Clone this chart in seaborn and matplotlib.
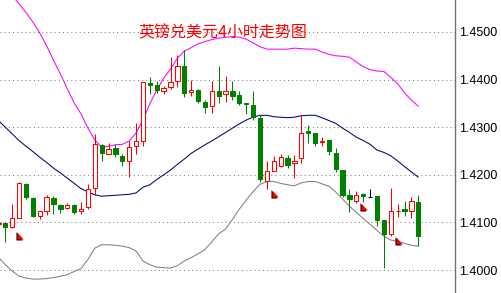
import numpy as np
import pandas as pd
import matplotlib
matplotlib.use("Agg")
import matplotlib.pyplot as plt
from matplotlib.patches import Rectangle
import seaborn as sns

# ---------------- data (4h GBP/USD candles + Bollinger bands) ----------------
opens = [1.4097, 1.4099, 1.4090, 1.4109, 1.4181, 1.4151, 1.4114, 1.4125, 1.4151, 1.4136,
         1.4130, 1.4136, 1.4123, 1.4132, 1.4172, 1.4262, 1.4243, 1.4256, 1.4239, 1.4228,
         1.4260, 1.4272, 1.4392, 1.4388, 1.4375, 1.4384, 1.4398, 1.4429, 1.4373, 1.4378,
         1.4353, 1.4345, 1.4376, 1.4369, 1.4376, 1.4368, 1.4351, 1.4346, 1.4319, 1.4188,
         1.4208, 1.4219, 1.4236, 1.4224, 1.4235, 1.4291, 1.4287, 1.4269, 1.4273, 1.4246,
         1.4210, 1.4158, 1.4146, 1.4159, 1.4154, 1.4155, 1.4104, 1.4075, 1.4124, 1.4128,
         1.4125, 1.4143]
highs = [1.4102, 1.4101, 1.4138, 1.4185, 1.4183, 1.4153, 1.4124, 1.4158, 1.4156, 1.4139,
         1.4141, 1.4139, 1.4142, 1.4181, 1.4285, 1.4265, 1.4266, 1.4265, 1.4244, 1.4271,
         1.4309, 1.4395, 1.4405, 1.4398, 1.4387, 1.4447, 1.4452, 1.4462, 1.4399, 1.4380,
         1.4357, 1.4397, 1.4429, 1.4407, 1.4397, 1.4375, 1.4351, 1.4375, 1.4326, 1.4228,
         1.4239, 1.4244, 1.4242, 1.4242, 1.4326, 1.4305, 1.4288, 1.4280, 1.4274, 1.4256,
         1.4211, 1.4170, 1.4165, 1.4161, 1.4171, 1.4156, 1.4106, 1.4172, 1.4139, 1.4144,
         1.4153, 1.4157]
lows = [1.4093, 1.4058, 1.4088, 1.4109, 1.4149, 1.4111, 1.4107, 1.4116, 1.4117, 1.4119,
        1.4129, 1.4118, 1.4118, 1.4129, 1.4158, 1.4230, 1.4243, 1.4237, 1.4219, 1.4196,
        1.4243, 1.4260, 1.4370, 1.4372, 1.4370, 1.4380, 1.4384, 1.4363, 1.4366, 1.4350,
        1.4329, 1.4329, 1.4350, 1.4353, 1.4357, 1.4347, 1.4327, 1.4315, 1.4184, 1.4170,
        1.4207, 1.4216, 1.4215, 1.4193, 1.4224, 1.4267, 1.4260, 1.4260, 1.4242, 1.4205,
        1.4153, 1.4122, 1.4140, 1.4143, 1.4153, 1.4092, 1.4004, 1.4071, 1.4111, 1.4113,
        1.4109, 1.4050]
closes = [1.4098, 1.4090, 1.4109, 1.4183, 1.4153, 1.4113, 1.4123, 1.4153, 1.4139, 1.4129,
          1.4136, 1.4122, 1.4129, 1.4170, 1.4265, 1.4245, 1.4254, 1.4243, 1.4228, 1.4258,
          1.4272, 1.4394, 1.4389, 1.4378, 1.4382, 1.4395, 1.4429, 1.4371, 1.4378, 1.4354,
          1.4343, 1.4375, 1.4366, 1.4375, 1.4366, 1.4350, 1.4349, 1.4321, 1.4191, 1.4209,
          1.4228, 1.4238, 1.4221, 1.4230, 1.4287, 1.4287, 1.4267, 1.4271, 1.4249, 1.4212,
          1.4158, 1.4149, 1.4157, 1.4155, 1.4154, 1.4105, 1.4076, 1.4125, 1.4125, 1.4123,
          1.4144, 1.4072]

upper = [1.4611, 1.4595, 1.4577, 1.4559, 1.4541, 1.4521, 1.4498, 1.4471, 1.4441, 1.4412,
         1.4381, 1.4351, 1.4328, 1.4298, 1.4273, 1.4258, 1.4260, 1.4263, 1.4264, 1.4271,
         1.4288, 1.4315, 1.4349, 1.4378, 1.4403, 1.4422, 1.4445, 1.4460, 1.4467, 1.4475,
         1.4480, 1.4484, 1.4487, 1.4489, 1.4490, 1.4489, 1.4485, 1.4477, 1.4469, 1.4464,
         1.4464, 1.4464, 1.4464, 1.4466, 1.4465, 1.4464, 1.4464, 1.4458, 1.4453, 1.4450,
         1.4449, 1.4447, 1.4437, 1.4427, 1.4421, 1.4418, 1.4417, 1.4405, 1.4391, 1.4372,
         1.4357, 1.4344]
middle = [1.4314, 1.4300, 1.4286, 1.4272, 1.4260, 1.4249, 1.4237, 1.4226, 1.4214, 1.4204,
          1.4193, 1.4182, 1.4171, 1.4164, 1.4158, 1.4155, 1.4156, 1.4157, 1.4158, 1.4159,
          1.4162, 1.4174, 1.4179, 1.4190, 1.4200, 1.4210, 1.4222, 1.4233, 1.4245, 1.4254,
          1.4263, 1.4271, 1.4280, 1.4289, 1.4298, 1.4307, 1.4315, 1.4321, 1.4325, 1.4325,
          1.4322, 1.4321, 1.4320, 1.4321, 1.4324, 1.4325, 1.4325, 1.4320, 1.4314, 1.4308,
          1.4298, 1.4289, 1.4279, 1.4272, 1.4264, 1.4252, 1.4247, 1.4240, 1.4229, 1.4217,
          1.4206, 1.4195]
lower = [1.4027, 1.4011, 1.3998, 1.3987, 1.3983, 1.3981, 1.3981, 1.3982, 1.3984, 1.3987,
         1.3990, 1.3997, 1.4003, 1.4022, 1.4046, 1.4053, 1.4053, 1.4052, 1.4050, 1.4047,
         1.4040, 1.4019, 1.4011, 1.4006, 1.4005, 1.4004, 1.4009, 1.4019, 1.4026, 1.4034,
         1.4043, 1.4059, 1.4076, 1.4086, 1.4106, 1.4128, 1.4147, 1.4165, 1.4180, 1.4186,
         1.4186, 1.4182, 1.4179, 1.4177, 1.4183, 1.4186, 1.4186, 1.4181, 1.4176, 1.4164,
         1.4149, 1.4134, 1.4121, 1.4108, 1.4096, 1.4083, 1.4071, 1.4063, 1.4060, 1.4056,
         1.4052, 1.4050]

arrow_idx = [3, 40, 53, 58]
arrow_price = [1.4080, 1.4169, 1.4141, 1.4069]

yticks = [1.4000, 1.4100, 1.4200, 1.4300, 1.4400, 1.4500]
ytick_labels = ["1.4000", "1.4100", "1.4200", "1.4300", "1.4400", "1.4500"]
title = "英镑兑美元4小时走势图"

# ---------------- styling ----------------
sns.set_style("white")
plt.rcParams["font.family"] = ["Noto Sans CJK SC", "DejaVu Sans"]

RED = "#FF0000"
GREEN = "#008000"
BLACK = "#000000"
LW = 0.75

fig = plt.figure(figsize=(5.02, 2.93), dpi=100)
ax = fig.add_axes([0, 0, 455 / 502, 1])

n = len(opens)
xs = np.arange(n)
bands = pd.DataFrame({"x": xs, "upper": upper, "middle": middle, "lower": lower})

sns.lineplot(data=bands, x="x", y="upper", color="#FF00FF", lw=LW, ax=ax, zorder=1)
sns.lineplot(data=bands, x="x", y="middle", color="#000080", lw=LW, ax=ax, zorder=1)
sns.lineplot(data=bands, x="x", y="lower", color="#808080", lw=LW, ax=ax, zorder=1)

w = 0.62
for i, (o, h, l, c) in enumerate(zip(opens, highs, lows, closes)):
    if c > o:
        col, face = RED, "white"
    elif c < o:
        col, face = GREEN, GREEN
    else:
        col, face = BLACK, BLACK
    ax.vlines(i, l, h, color=col, lw=LW, zorder=2)
    bottom = min(o, c)
    height = max(abs(c - o), 1e-6)
    ax.add_patch(Rectangle((i - w / 2, bottom), w, height, facecolor=face,
                           edgecolor=col, lw=LW, zorder=3))

# fractal arrows
red_tri = [(0, 0), (0, -1), (0.9, -1), (0, 0)]
blk_tri = [(-0.15, 0.05), (-0.15, -1.15), (0.75, -1.15), (-0.15, 0.05)]
ax_x = np.array(arrow_idx) - 0.3
ax.scatter(ax_x, arrow_price, marker=blk_tri, s=(10 * 1.15) ** 2, color=BLACK,
           lw=0, zorder=4)
ax.scatter(ax_x, arrow_price, marker=red_tri, s=10 ** 2, color=RED, lw=0, zorder=5)

# axes
ax.set_xlim(0.23, 66.33)
ax.set_ylim(1.39517, 1.45672)
ax.set_xticks([])
ax.set_xlabel("")
ax.set_ylabel("")
ax.yaxis.tick_right()
ax.set_yticks(yticks)
ax.set_yticklabels(ytick_labels, fontfamily="Liberation Sans", fontsize=9, color="black")
ax.tick_params(axis="y", length=0, pad=3)
ax.grid(axis="y", color="#808080", ls=(0, (1, 3)), lw=LW)
ax.grid(axis="x", visible=False)
ax.set_axisbelow(True)
for s in ["top", "left", "bottom"]:
    ax.spines[s].set_visible(False)
ax.spines["right"].set_color("#707070")
ax.spines["right"].set_linewidth(1)

fig.text(0.444, 0.887, title, color=RED, fontsize=11.5, ha="center", va="center")

fig.savefig("out.png", dpi=100)
